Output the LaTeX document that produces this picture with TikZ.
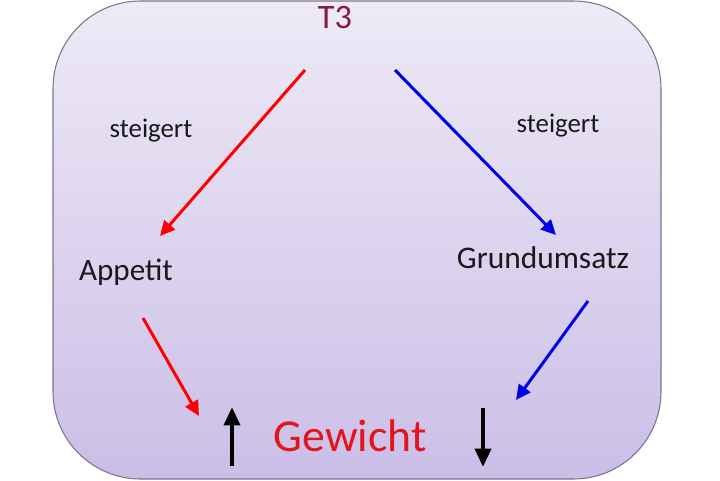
\documentclass[tikz,border=0pt]{standalone}
\usepackage{fontspec}
\setmainfont{Carlito}
\usetikzlibrary{arrows.meta}

\definecolor{boxtop}{RGB}{238,234,246}
\definecolor{boxbot}{RGB}{203,190,231}
\definecolor{boxline}{RGB}{125,115,140}
\definecolor{hormon}{RGB}{135,25,70}
\definecolor{gewred}{RGB}{228,20,28}

\begin{document}
\begin{tikzpicture}[
    x=0.02cm, y=-0.02cm,
    lbl/.style={inner sep=0pt, anchor=base, text=black!90},
    redarrow/.style={-{Triangle[length=8.5pt,width=8pt]}, line width=1.7pt, draw=red},
    bluearrow/.style={-{Triangle[length=8.5pt,width=8pt]}, line width=1.7pt, draw=blue!90!black},
    trend/.style={-{Triangle[length=10.5pt,width=9pt]}, line width=2.5pt, draw=black}
]
  \useasboundingbox (0,0) rectangle (720,480);

  % rounded background
  \draw[draw=boxline, line width=0.6pt, top color=boxtop, bottom color=boxbot,
        rounded corners=1.75cm] (53,1) rectangle (661,479);

  % texts
  \node[lbl, text=hormon, font=\fontsize{19.5}{22}\selectfont] (t3) at (335,29) {T3};
  \node[lbl, font=\fontsize{15.3}{18}\selectfont] (stgL) at (151,137) {steigert};
  \node[lbl, font=\fontsize{15.3}{18}\selectfont] (stgR) at (558,132) {steigert};
  \node[lbl, font=\fontsize{17.7}{21}\selectfont] (appetit) at (126,280) {Appetit};
  \node[lbl, font=\fontsize{17.9}{21}\selectfont] (grundumsatz) at (543,268) {Grundumsatz};
  \node[lbl, text=gewred, font=\fontsize{26}{30}\selectfont] (gewicht) at (350,451) {Gewicht};

  % arrow ends
  \coordinate (r1a) at (305,70);
  \coordinate (r1b) at (160,236);
  \coordinate (b1a) at (395,70);
  \coordinate (b1b) at (556,235);
  \coordinate (r2a) at (143,318);
  \coordinate (r2b) at (199,416);
  \coordinate (b2a) at (588,301);
  \coordinate (b2b) at (516,400);
  \coordinate (upa) at (232,466);
  \coordinate (upb) at (232,407);
  \coordinate (dna) at (483,408);
  \coordinate (dnb) at (483,467);

  \draw[redarrow] (r1a) -- (r1b);
  \draw[bluearrow] (b1a) -- (b1b);
  \draw[redarrow] (r2a) -- (r2b);
  \draw[bluearrow] (b2a) -- (b2b);
  \draw[trend] (upa) -- (upb);
  \draw[trend] (dna) -- (dnb);
\end{tikzpicture}
\end{document}
